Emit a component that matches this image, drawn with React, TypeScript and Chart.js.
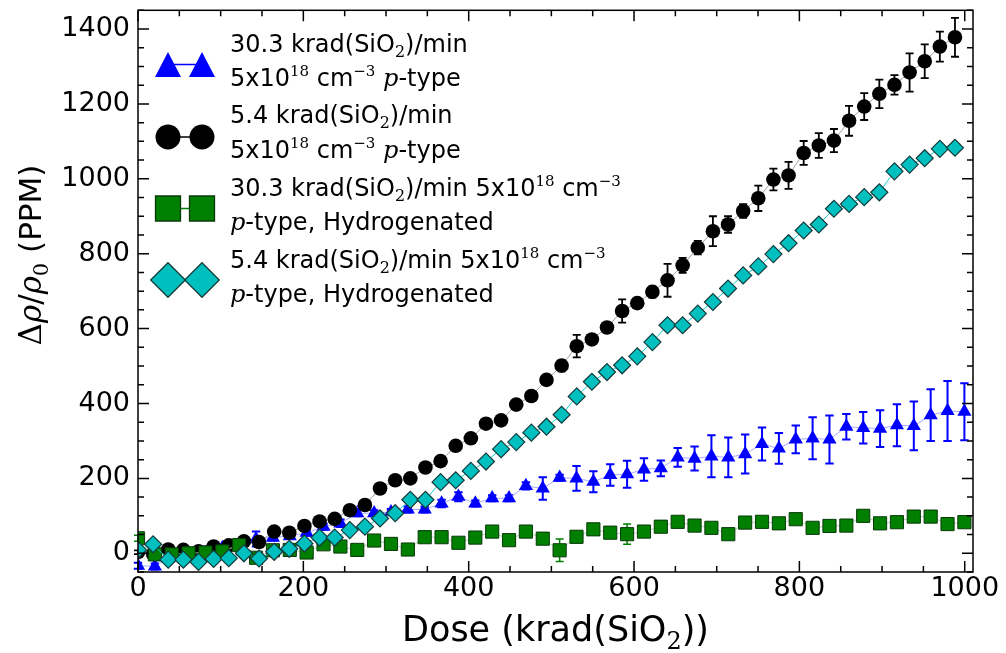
import React, { useEffect, useRef } from 'react';
import { Chart, registerables } from 'chart.js';

Chart.register(...registerables);

// ---------- data ----------
// 5.4 krad(SiO2)/min series sample doses (krad)
const slowDose = [0, 18.3, 36.6, 54.9, 73.2, 91.5, 109.8, 128.1, 146.4, 164.7, 183, 201.3, 219.6, 237.9, 256.2, 274.5, 292.8, 311.1, 329.4, 347.7, 366, 384.3, 402.6, 420.9, 439.2, 457.5, 475.8, 494.1, 512.4, 530.7, 549, 567.3, 585.6, 603.9, 622.2, 640.5, 658.8, 677.1, 695.4, 713.7, 732, 750.3, 768.6, 786.9, 805.2, 823.5, 841.8, 860.1, 878.4, 896.7, 915, 933.3, 951.6, 969.9, 988.2];
// 30.3 krad(SiO2)/min series sample doses (krad)
const fastDose = [0, 20.4, 40.8, 61.2, 81.6, 102, 122.4, 142.8, 163.2, 183.6, 204, 224.4, 244.8, 265.2, 285.6, 306, 326.4, 346.8, 367.2, 387.6, 408, 428.4, 448.8, 469.2, 489.6, 510, 530.4, 550.8, 571.2, 591.6, 612, 632.4, 652.8, 673.2, 693.6, 714, 734.4, 754.8, 775.2, 795.6, 816, 836.4, 856.8, 877.2, 897.6, 918, 938.4, 958.8, 979.2, 999.6];

const triVals = [-33, -35, -8, -2, 0, 14, 20, 38, 42, 46, 55, 71, 80, 107, 107, 110, 117, 117, 133, 151, 133, 147, 147, 180, 173, 202, 200, 191, 209, 211, 224, 227, 256, 253, 259, 256, 265, 292, 280, 304, 307, 304, 338, 335, 333, 342, 340, 369, 380, 378];
const triErr = [8, 8, 8, 8, 18, 8, 8, 20, 8, 8, 8, 8, 10, 8, 8, 8, 8, 8, 10, 12, 8, 8, 8, 10, 30, 8, 33, 28, 29, 36, 30, 21, 25, 32, 56, 53, 52, 44, 41, 37, 56, 64, 34, 42, 49, 56, 65, 69, 80, 76];

const circVals = [3, -2, 10, 9, 5, 18, 21, 32, 30, 58, 55, 73, 85, 92, 115, 129, 173, 195, 200, 229, 246, 287, 307, 346, 355, 397, 420, 463, 501, 553, 571, 603, 647, 668, 698, 729, 769, 816, 860, 878, 914, 948, 998, 1009, 1069, 1089, 1102, 1155, 1193, 1227, 1251, 1284, 1314, 1353, 1378];
const circErr = [5, 5, 5, 5, 5, 5, 5, 5, 5, 5, 5, 5, 5, 5, 6, 6, 8, 8, 8, 8, 8, 8, 10, 10, 10, 10, 10, 12, 15, 30, 8, 10, 31, 8, 15, 44, 20, 18, 40, 22, 18, 34, 29, 36, 32, 33, 31, 40, 36, 38, 26, 51, 45, 40, 52];

const sqVals = [40, -3, -3, 0, 2, 5, 22, -12, 8, 9, 2, 24, 18, 9, 34, 25, 10, 43, 43, 28, 42, 58, 35, 58, 39, 8, 44, 64, 55, 51, 58, 71, 84, 74, 68, 51, 82, 84, 80, 91, 68, 73, 74, 100, 80, 83, 98, 98, 78, 83];
const sqErr = [8, 5, 5, 5, 5, 5, 5, 5, 5, 5, 15, 5, 5, 5, 5, 5, 5, 5, 5, 5, 5, 5, 5, 5, 5, 30, 5, 5, 5, 27, 5, 5, 5, 5, 5, 5, 5, 5, 5, 8, 5, 5, 5, 5, 5, 5, 10, 10, 5, 5];

const diaVals = [9, 24, -17, -17, -23, -15, -13, 0, -14, 4, 12, 26, 42, 42, 62, 71, 93, 107, 143, 143, 190, 195, 220, 245, 278, 297, 322, 338, 370, 419, 458, 484, 502, 526, 564, 609, 609, 640, 671, 707, 742, 766, 799, 828, 862, 878, 920, 933, 951, 964, 1020, 1038, 1055, 1080, 1083];

const xTicks = [0, 200, 400, 600, 800, 1000];
const yTicks = [0, 200, 400, 600, 800, 1000, 1200, 1400];
const X_MIN = 0, X_MAX = 1010, Y_MIN = -50, Y_MAX = 1450, MINOR_STEP = 50;

type Seg = { t: string; k?: 'sub' | 'sup' | 'it' | 'serif' };

const legendTexts: Seg[][][] = [
  [
    [{ t: '30.3 krad(SiO' }, { t: '2', k: 'sub' }, { t: ')/min' }],
    [{ t: '5x10' }, { t: '18', k: 'sup' }, { t: ' cm' }, { t: '\u22123', k: 'sup' }, { t: ' ' }, { t: 'p', k: 'it' }, { t: '-type' }],
  ],
  [
    [{ t: '5.4 krad(SiO' }, { t: '2', k: 'sub' }, { t: ')/min' }],
    [{ t: '5x10' }, { t: '18', k: 'sup' }, { t: ' cm' }, { t: '\u22123', k: 'sup' }, { t: ' ' }, { t: 'p', k: 'it' }, { t: '-type' }],
  ],
  [
    [{ t: '30.3 krad(SiO' }, { t: '2', k: 'sub' }, { t: ')/min 5x10' }, { t: '18', k: 'sup' }, { t: ' cm' }, { t: '\u22123', k: 'sup' }],
    [{ t: 'p', k: 'it' }, { t: '-type, Hydrogenated' }],
  ],
  [
    [{ t: '5.4 krad(SiO' }, { t: '2', k: 'sub' }, { t: ')/min 5x10' }, { t: '18', k: 'sup' }, { t: ' cm' }, { t: '\u22123', k: 'sup' }],
    [{ t: 'p', k: 'it' }, { t: '-type, Hydrogenated' }],
  ],
];

const xTitle: Seg[] = [{ t: 'Dose (krad(SiO' }, { t: '2', k: 'sub' }, { t: '))' }];
const yTitle: Seg[] = [{ t: '\u0394', k: 'serif' }, { t: '\u03c1', k: 'it' }, { t: '/', k: 'serif' }, { t: '\u03c1', k: 'it' }, { t: '0', k: 'sub' }, { t: ' (PPM)' }];

// ---------- helpers ----------
function segFont(s: Seg, size: number): { font: string; dy: number } {
  if (s.k === 'sub') return { font: `${Math.round(size * 0.68)}px "DejaVu Serif"`, dy: size * 0.22 };
  if (s.k === 'sup') return { font: `${Math.round(size * 0.62)}px "DejaVu Serif"`, dy: -size * 0.4 };
  if (s.k === 'it') return { font: `italic ${size}px "DejaVu Serif"`, dy: 0 };
  if (s.k === 'serif') return { font: `${size}px "DejaVu Serif"`, dy: 0 };
  return { font: `${size}px "DejaVu Sans"`, dy: 0 };
}
function segsWidth(ctx: CanvasRenderingContext2D, segs: Seg[], size: number) {
  let w = 0;
  for (const s of segs) {
    ctx.font = segFont(s, size).font;
    w += ctx.measureText(s.t).width;
  }
  return w;
}
function drawSegs(ctx: CanvasRenderingContext2D, segs: Seg[], x: number, y: number, size: number) {
  ctx.textAlign = 'left';
  ctx.textBaseline = 'alphabetic';
  for (const s of segs) {
    const f = segFont(s, size);
    ctx.font = f.font;
    ctx.fillText(s.t, x, y + f.dy);
    x += ctx.measureText(s.t).width;
  }
}
function drawShape(ctx: CanvasRenderingContext2D, kind: string, cx: number, cy: number, h: number, fill: string, edge: string, lw: number) {
  ctx.beginPath();
  if (kind === 'triangle') {
    ctx.moveTo(cx, cy - h);
    ctx.lineTo(cx + h * 1.04, cy + h);
    ctx.lineTo(cx - h * 1.04, cy + h);
    ctx.closePath();
  } else if (kind === 'circle') {
    ctx.arc(cx, cy, h, 0, Math.PI * 2);
  } else if (kind === 'rect') {
    ctx.rect(cx - h, cy - h, 2 * h, 2 * h);
  } else {
    ctx.moveTo(cx - h, cy);
    ctx.lineTo(cx, cy - h);
    ctx.lineTo(cx + h, cy);
    ctx.lineTo(cx, cy + h);
    ctx.closePath();
  }
  ctx.fillStyle = fill;
  ctx.fill();
  if (lw > 0) {
    ctx.lineWidth = lw;
    ctx.strokeStyle = edge;
    ctx.stroke();
  }
}

const errorBarPlugin = {
  id: 'errorBars',
  beforeDatasetDraw(chart: any, args: any) {
    const ds = chart.data.datasets[args.index];
    if (!ds.errors) return;
    const ctx = chart.ctx as CanvasRenderingContext2D;
    const ys = chart.scales.y;
    ctx.save();
    ctx.strokeStyle = ds.errColor;
    ctx.lineWidth = ds.errWidth;
    const cap = ds.errCap;
    args.meta.data.forEach((pt: any, i: number) => {
      const e = ds.errors[i];
      if (!e) return;
      const v = ds.data[i].y;
      const y1 = ys.getPixelForValue(v - e);
      const y2 = ys.getPixelForValue(v + e);
      const x = pt.x;
      ctx.beginPath();
      ctx.moveTo(x, y1); ctx.lineTo(x, y2);
      ctx.moveTo(x - cap, y1); ctx.lineTo(x + cap, y1);
      ctx.moveTo(x - cap, y2); ctx.lineTo(x + cap, y2);
      ctx.stroke();
    });
    ctx.restore();
  },
};

const decorPlugin = {
  id: 'decor',
  afterDraw(chart: any) {
    const ctx = chart.ctx as CanvasRenderingContext2D;
    const { left, right, top, bottom } = chart.chartArea;
    const xs = chart.scales.x, ys = chart.scales.y;
    ctx.save();
    // ticks, inward on all four sides
    ctx.strokeStyle = '#000';
    ctx.lineWidth = 1.5;
    ctx.beginPath();
    for (let v = X_MIN; v <= X_MAX; v += MINOR_STEP) {
      const x = xs.getPixelForValue(v);
      const len = xTicks.includes(v) ? 11 : 6;
      ctx.moveTo(x, bottom); ctx.lineTo(x, bottom - len);
      ctx.moveTo(x, top); ctx.lineTo(x, top + len);
    }
    for (let v = Y_MIN; v <= Y_MAX; v += MINOR_STEP) {
      const y = ys.getPixelForValue(v);
      const len = yTicks.includes(v) ? 11 : 6;
      ctx.moveTo(left, y); ctx.lineTo(left + len, y);
      ctx.moveTo(right, y); ctx.lineTo(right - len, y);
    }
    ctx.stroke();
    // frame
    ctx.lineWidth = 1.5;
    ctx.strokeRect(left, top, right - left, bottom - top);

    // axis titles
    ctx.fillStyle = '#000';
    const xw = segsWidth(ctx, xTitle, 35);
    drawSegs(ctx, xTitle, (left + right) / 2 - xw / 2, 641, 35);
    const yw = segsWidth(ctx, yTitle, 31);
    ctx.save();
    ctx.translate(41, 255);
    ctx.rotate(-Math.PI / 2);
    drawSegs(ctx, yTitle, -yw / 2, 0, 31);
    ctx.restore();

    // legend
    const kinds = ['triangle', 'circle', 'rect', 'diamond'];
    const fills = ['#0000ff', '#000000', '#007f00', '#00bfbf'];
    const edges = ['#0000ff', '#000000', '#0a3a0a', '#143c3c'];
    const sizes = [12.5, 12.5, 12.5, 17.3];
    const cys = [64.5, 137, 208.5, 280];
    const bases = [[51.5, 85.5], [123, 157.5], [196, 230], [268, 301.5]];
    for (let k = 0; k < 4; k++) {
      const cy = cys[k];
      ctx.strokeStyle = fills[k];
      ctx.lineWidth = 1.5;
      ctx.beginPath();
      ctx.moveTo(168, cy); ctx.lineTo(202, cy);
      ctx.stroke();
      drawShape(ctx, kinds[k], 168, cy, sizes[k], fills[k], edges[k], k >= 2 ? 1.3 : 0);
      drawShape(ctx, kinds[k], 202, cy, sizes[k], fills[k], edges[k], k >= 2 ? 1.3 : 0);
      ctx.fillStyle = '#000';
      legendTexts[k].forEach((line, j) => drawSegs(ctx, line, 230, bases[k][j], 24));
    }
    ctx.restore();
  },
};

export default function App() {
  const ref = useRef<HTMLCanvasElement>(null);
  useEffect(() => {
    if (!ref.current) return;
    const tickFont = { family: '"DejaVu Sans"', size: 27 };
    const chart = new Chart(ref.current, {
      type: 'scatter',
      data: {
        datasets: [
          {
            label: '5.4 hydrogenated',
            data: slowDose.map((x, i) => ({ x, y: diaVals[i] })),
            showLine: true,
            borderColor: '#19cccc',
            borderWidth: 1,
            pointStyle: 'rectRot',
            pointRadius: 8.5,
            pointBackgroundColor: '#00bfbf',
            pointBorderColor: '#143c3c',
            pointBorderWidth: 1.2,
            order: 0,
          },
          {
            label: '30.3 hydrogenated',
            data: fastDose.map((x, i) => ({ x, y: sqVals[i] })),
            showLine: true,
            borderColor: '#a6d8a6',
            borderWidth: 1,
            pointStyle: 'rect',
            pointRadius: 9.3,
            pointBackgroundColor: '#007f00',
            pointBorderColor: '#0a3a0a',
            pointBorderWidth: 1,
            order: 1,
            errors: sqErr,
            errColor: '#007f00',
            errWidth: 1.5,
            errCap: 4,
          } as any,
          {
            label: '5.4',
            data: slowDose.map((x, i) => ({ x, y: circVals[i] })),
            showLine: true,
            borderColor: '#a0a0a0',
            borderWidth: 1,
            pointStyle: 'circle',
            pointRadius: 7.3,
            pointBackgroundColor: '#000000',
            pointBorderColor: '#000000',
            pointBorderWidth: 0,
            order: 2,
            errors: circErr,
            errColor: '#000000',
            errWidth: 1.8,
            errCap: 4,
          } as any,
          {
            label: '30.3',
            data: fastDose.map((x, i) => ({ x, y: triVals[i] })),
            showLine: true,
            borderColor: '#a8a8ff',
            borderWidth: 1,
            pointStyle: 'triangle',
            pointRadius: 8.2,
            pointBackgroundColor: '#0000ff',
            pointBorderColor: '#0000ff',
            pointBorderWidth: 0,
            order: 3,
            errors: triErr,
            errColor: '#0000ff',
            errWidth: 2,
            errCap: 4.2,
          } as any,
        ],
      },
      options: {
        animation: false,
        responsive: false,
        devicePixelRatio: 1,
        layout: { padding: { top: 10, right: 33, left: 0, bottom: 0 } },
        plugins: { legend: { display: false }, tooltip: { enabled: false } },
        scales: {
          x: {
            type: 'linear',
            min: X_MIN,
            max: X_MAX,
            grid: { display: false, drawTicks: false },
            border: { display: false },
            ticks: { font: tickFont, color: '#000', padding: 1, maxRotation: 0, callback: (v: any) => String(v) },
            afterBuildTicks: (s: any) => { s.ticks = xTicks.map((v) => ({ value: v })); },
            afterFit: (s: any) => { s.height = 81; s.paddingLeft = 0; s.paddingRight = 0; },
          },
          y: {
            type: 'linear',
            min: Y_MIN,
            max: Y_MAX,
            grid: { display: false, drawTicks: false },
            border: { display: false },
            ticks: { font: tickFont, color: '#000', padding: 8, callback: (v: any) => String(v) },
            afterBuildTicks: (s: any) => { s.ticks = yTicks.map((v) => ({ value: v })); },
            afterFit: (s: any) => { s.width = 138; s.paddingTop = 0; s.paddingBottom = 0; },
          },
        },
      },
      plugins: [errorBarPlugin, decorPlugin],
    } as any);
    return () => chart.destroy();
  }, []);
  return (
    <canvas
      ref={ref}
      width={1006}
      height={653}
      style={{ position: 'fixed', left: 0, top: 0, width: 1006, height: 653, background: '#fff' }}
    />
  );
}
